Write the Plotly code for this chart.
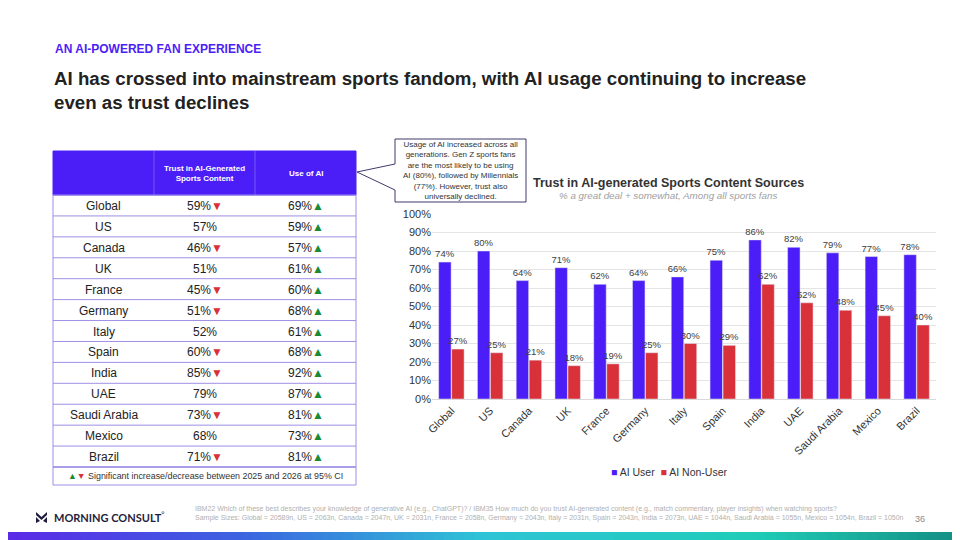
import plotly.graph_objects as go

W, H = 960, 540
OFF = 8  # the page body margin pushes the figure 8px right and down

# ---- data ----
countries = ["Global", "US", "Canada", "UK", "France", "Germany", "Italy",
             "Spain", "India", "UAE", "Saudi Arabia", "Mexico", "Brazil"]
trust_pct = [59, 57, 46, 51, 45, 51, 52, 60, 85, 79, 73, 68, 71]
trust_sig = ["down", "", "down", "", "down", "down", "", "down", "down", "", "down", "", "down"]
use_pct = [69, 59, 57, 61, 60, 68, 61, 68, 92, 87, 81, 73, 81]
use_sig = ["up"] * 13
table_cols = ["", "Trust in AI-Generated<br>Sports Content", "Use of AI"]

series_names = ["AI User", "AI Non-User"]
ai_user = [74, 80, 64, 71, 62, 64, 66, 75, 86, 82, 79, 77, 78]
ai_non_user = [27, 25, 21, 18, 19, 25, 30, 29, 62, 52, 48, 45, 40]

BLUE = "#4b1ef7"
RED = "#d9313a"
GREEN = "#1a8a34"
LINE = "#9f8fe6"
SANS = "Liberation Sans, Arial, sans-serif"


def px(x):
    return (x - OFF) / W


def py(y):
    return 1 - (y - OFF) / H


def arrow(kind):
    if kind == "up":
        return f"<span style='color:{GREEN}'>▲</span>"
    if kind == "down":
        return f"<span style='color:{RED}'>▼</span>"
    return ""


fig = go.Figure()

# ---- bar chart ----
for name, vals, col in zip(series_names, [ai_user, ai_non_user], [BLUE, RED]):
    fig.add_trace(go.Bar(
        x=countries, y=vals, name=name, marker_color=col,
        text=[f"{v}%" for v in vals], textposition="outside", constraintext="none",
        textfont=dict(family=SANS, size=9.5, color="#404040"), cliponaxis=False,
        showlegend=False,
    ))

shapes = []
annotations = []


def rect(x0, y0, x1, y1, fill="rgba(0,0,0,0)", color=LINE, width=1):
    shapes.append(dict(type="rect", xref="paper", yref="paper",
                       x0=px(x0), x1=px(x1), y0=py(y1), y1=py(y0),
                       line=dict(color=color, width=width), fillcolor=fill))


def hline(x0, x1, y, color=LINE):
    shapes.append(dict(type="line", xref="paper", yref="paper",
                       x0=px(x0), x1=px(x1), y0=py(y), y1=py(y),
                       line=dict(color=color, width=1)))


def label(x, y, text, size, color="#222222", anchor="center", **kw):
    annotations.append(dict(x=px(x), y=py(y), text=text, xanchor=anchor, yanchor="middle",
                            font=dict(family=kw.pop("family", SANS), size=size, color=color),
                            **kw))


# ---- table (left) ----
tx0, tx1 = 53, 356
col_w = (tx1 - tx0) / 3
head_top, head_bot = 151, 195
row_h = (467 - head_bot) / len(countries)

rect(tx0, head_top, tx1, head_bot, fill=BLUE, color=BLUE)
for c in range(1, 3):
    shapes.append(dict(type="line", xref="paper", yref="paper",
                       x0=px(tx0 + c * col_w), x1=px(tx0 + c * col_w),
                       y0=py(head_bot), y1=py(head_top),
                       line=dict(color="#7058f8", width=1)))
for c, name in enumerate(table_cols):
    if name:
        label(tx0 + (c + 0.5) * col_w, (head_top + head_bot) / 2, f"<b>{name}</b>", 8,
              color="white")

for i, name in enumerate(countries):
    y0 = head_bot + i * row_h
    yc = y0 + row_h / 2 + 0.5
    hline(tx0, tx1, y0 + row_h)
    label(tx0 + 0.5 * col_w, yc, name, 12)
    label(tx0 + 1.5 * col_w, yc, f"{trust_pct[i]}%{arrow(trust_sig[i])}", 12)
    label(tx0 + 2.5 * col_w, yc, f"{use_pct[i]}%{arrow(use_sig[i])}", 12)
rect(tx0, head_bot, tx1, 467)
rect(tx0, 467, tx1, 485)
label(205, 476, (f"<span style='color:{GREEN}'>▲</span><span style='color:{RED}'>▼</span> "
                 "Significant increase/decrease between 2025 and 2026 at 95% CI"), 8.9,
      color="#333333")

# ---- callout with pointer ----
shapes.append(dict(type="path", xref="paper", yref="paper",
                   path=(f"M {px(395)},{py(139)} L {px(526)},{py(139)} L {px(526)},{py(202)} "
                         f"L {px(395)},{py(202)} L {px(395)},{py(190)} L {px(357)},{py(172)} "
                         f"L {px(395)},{py(164)} Z"),
                   line=dict(color="#3e3a6a", width=1), fillcolor="white"))
label(460.5, 170.5, ("Usage of AI increased across all<br>generations. Gen Z sports fans<br>"
                     "are the most likely to be using<br>AI (80%), followed by Millennials<br>"
                     "(77%). However, trust also<br>universally declined."), 8,
      color="#333333")

# ---- headings ----
label(53, 49, "<b>AN AI-POWERED FAN EXPERIENCE</b>", 12, color=BLUE, anchor="left")
label(52, 90, ("<b>AI has crossed into mainstream sports fandom, with AI usage "
               "continuing to increase<br>even as trust declines</b>"), 18.7,
      anchor="left", align="left")
label(668, 183, "<b>Trust in AI-generated Sports Content Sources</b>", 12.5, color="#333333")
label(668, 196, "<i>% a great deal + somewhat, Among all sports fans</i>", 9.8, color="#a0a0a0")

# ---- legend ----
label(669, 472, (f"<span style='color:{BLUE}'>■</span> {series_names[0]}  "
                 f"<span style='color:{RED}'>■</span> {series_names[1]}"), 10.5,
      color="#333333")

# ---- footer ----
shapes.append(dict(type="path", xref="paper", yref="paper",
                   path=(f"M {px(36)},{py(512)} L {px(41.5)},{py(517)} L {px(47)},{py(512)} "
                         f"L {px(47)},{py(515)} L {px(41.5)},{py(520)} L {px(36)},{py(515)} Z "
                         f"M {px(36)},{py(517)} L {px(40)},{py(521)} L {px(36)},{py(523)} Z "
                         f"M {px(47)},{py(517)} L {px(43)},{py(521)} L {px(47)},{py(523)} Z"),
                   line=dict(width=0), fillcolor="#1f1d3d"))
label(52, 517, "<b>MORNING CONSULT</b><sup>°</sup>", 11, color="#1f1d3d", anchor="left",
      family="Lato, Liberation Sans, sans-serif")
label(193, 513.5,
      ("IBM22 Which of these best describes your knowledge of generative AI (e.g., ChatGPT)? / "
       "IBM35 How much do you trust AI-generated content (e.g., match commentary, player insights) "
       "when watching sports?<br>Sample Sizes: Global = 20589n, US = 2063n, Canada = 2047n, "
       "UK = 2031n, France = 2058n, Germany = 2043n, Italy = 2031n, Spain = 2043n, India = 2073n, "
       "UAE = 1044n, Saudi Arabia = 1055n, Mexico = 1054n, Brazil = 1050n"),
      7, color="#b0b0b0", anchor="left", align="left")
label(920, 519, "36", 9, color="#8a8a8a")

# gradient strip at the bottom
stops = [(0, (92, 40, 232)), (0.25, (60, 100, 225)), (0.5, (46, 196, 214)),
         (0.78, (32, 205, 184)), (1, (20, 140, 130))]
n = 96
seg = (W + OFF) / n
for i in range(n):
    t = (i + 0.5) / n
    for (t0, c0), (t1, c1) in zip(stops[:-1], stops[1:]):
        if t0 <= t <= t1:
            f = (t - t0) / (t1 - t0)
            c = tuple(int(a + (b - a) * f) for a, b in zip(c0, c1))
            break
    shapes.append(dict(type="rect", xref="paper", yref="paper",
                       x0=px(i * seg), x1=px((i + 1) * seg + 1), y0=py(542), y1=py(532),
                       line=dict(width=0), fillcolor=f"rgb{c}", layer="above"))

for a in annotations:
    a.update(xref="paper", yref="paper", showarrow=False)

fig.update_layout(
    width=W, height=H, autosize=False, margin=dict(l=0, r=0, t=0, b=0, pad=0),
    paper_bgcolor="white", plot_bgcolor="white",
    barmode="group", bargap=0.33, bargroupgap=0.04,
    font=dict(family=SANS, color="#333333"),
    showlegend=False,
    xaxis=dict(domain=[px(432), px(936)], tickangle=-45, showgrid=False,
               showline=True, linecolor="#d9d9d9", ticks="", automargin=False,
               tickfont=dict(family=SANS, size=11, color="#333333")),
    yaxis=dict(domain=[py(399), py(214)], range=[0, 100], dtick=10, ticksuffix="%",
               showgrid=True, gridcolor="#e4e4e4", zeroline=False, ticks="", automargin=False,
               tickfont=dict(family=SANS, size=11, color="#333333")),
    shapes=shapes, annotations=annotations,
)

fig.write_html("out.html")
